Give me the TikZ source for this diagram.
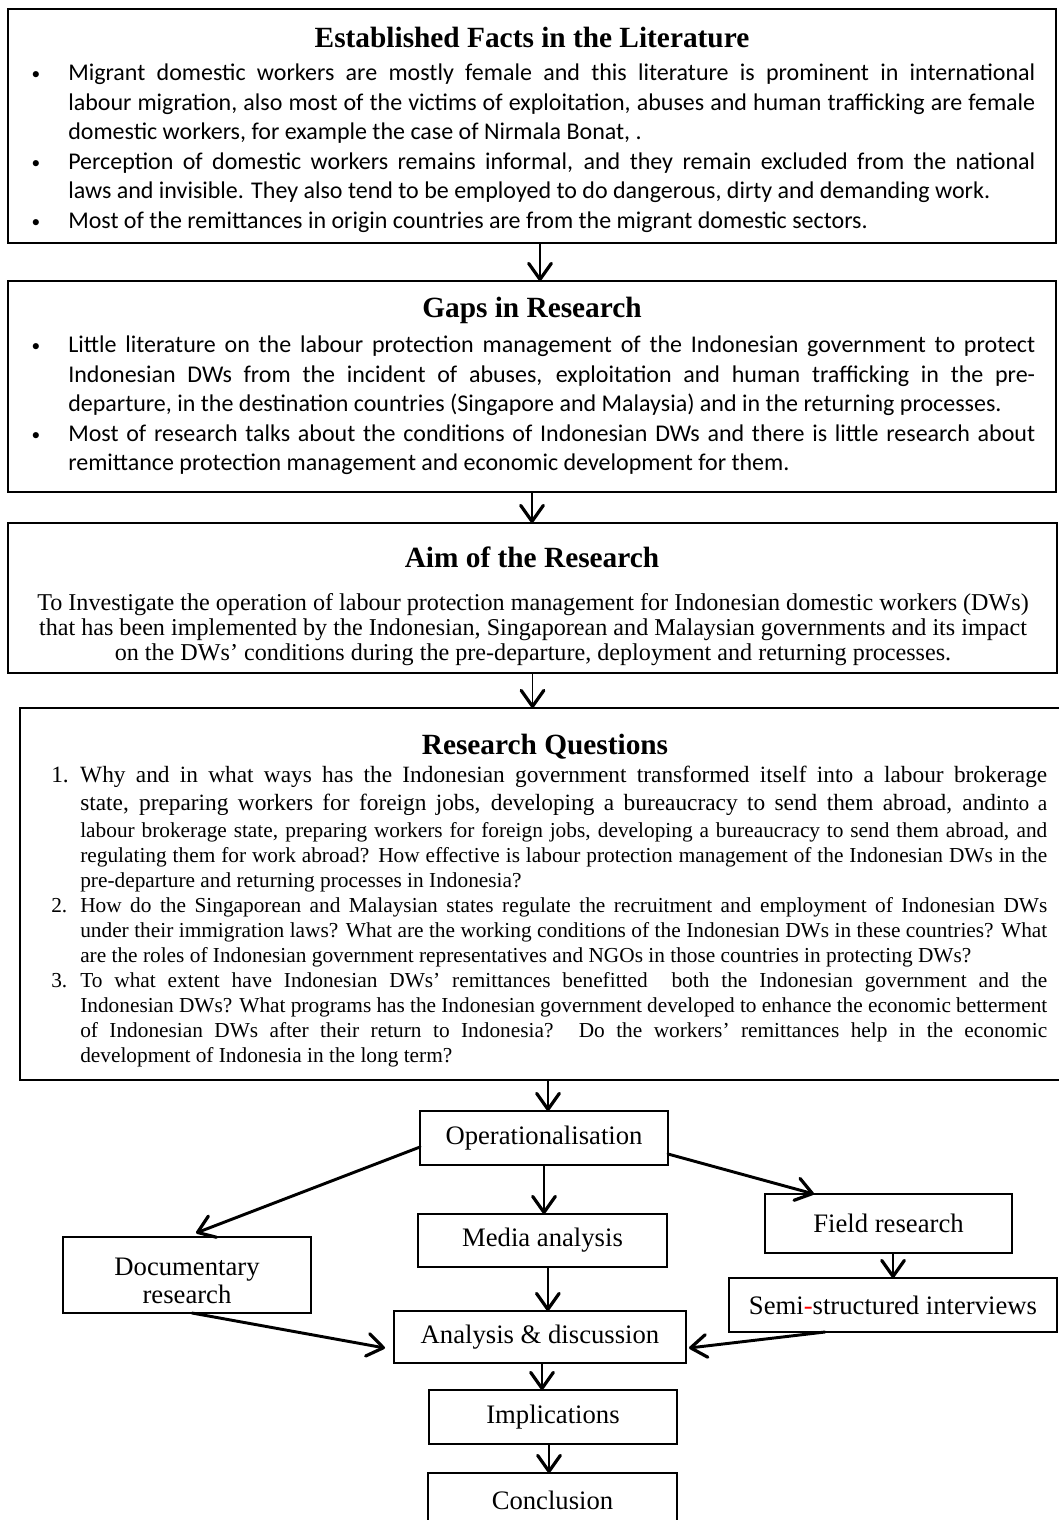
\documentclass[tikz,border=0pt]{standalone}
\usepackage{fontspec}
\setmainfont{Liberation Serif}
\newfontfamily\calfont{Carlito}
\usetikzlibrary{arrows.meta}
\newcommand{\bigrq}{\fontsize{17.5}{18.75}\selectfont}
\newcommand{\smallrq}{\fontsize{16}{18.75}\selectfont}
\newcommand{\bitem}[1]{\hangindent=28.5pt\hangafter=1\noindent\makebox[28.5pt][l]{\hspace{1pt}\raisebox{0.5pt}{\fontsize{13}{13}\selectfont •}}#1\par}
\begin{document}
\begin{tikzpicture}[x=0.75pt,y=-0.75pt,
  bigbox/.style={draw, line width=1.6pt, inner sep=0pt, outer sep=0pt},
  boxtitle/.style={font=\fontsize{22}{26}\selectfont\bfseries, inner sep=0pt},
  calbody/.style={font=\calfont\fontsize{18}{22.2}\selectfont, inner sep=0pt, text width=753.75pt, align=justify, anchor=north west},
  stepbox/.style={draw, line width=1.6pt, inner sep=0pt, outer sep=0pt, align=center, font=\fontsize{20}{21}\selectfont},
  steptext/.style={inner sep=0pt, align=center, font=\fontsize{20}{21}\selectfont},
  arr/.style={line width=1.1pt, -{Straight Barb[length=12pt,width=17pt,line width=2.4pt,round]}},
  arrthick/.style={line width=2.2pt, line cap=round, -{Straight Barb[length=12pt,width=17pt,line width=2.4pt,round]}},
  arrmid/.style={line width=1.6pt, -{Straight Barb[length=12pt,width=17pt,line width=2.4pt,round]}}
]
\useasboundingbox (0,0) rectangle (1058,1520);
\fill[white] (0,0) rectangle (1058,1520);

% ---- big boxes
\node[bigbox, minimum width=786pt, minimum height=175.5pt] (b1) at (532,126) {};
\node[bigbox, minimum width=786pt, minimum height=158.25pt] (b2) at (532,386.5) {};
\node[bigbox, minimum width=786.75pt, minimum height=112.5pt] (b3) at (532.5,598) {};
\node[bigbox, minimum width=787.5pt, minimum height=279pt] (b4) at (545,894) {};

% ---- box 1
\node[boxtitle] (t1) at (532,38) {Established Facts in the Literature};
\node[calbody] (c1) at (30,63.5) {%
\bitem{Migrant domestic workers are mostly female and this literature is prominent in international\linebreak labour migration, also most of the victims of exploitation, abuses and human trafficking are female\linebreak domestic workers, for example the case of Nirmala Bonat, .}
\bitem{Perception of domestic workers remains informal, and they remain excluded from the national\linebreak laws and invisible. They also tend to be employed to do dangerous, dirty and demanding work.}
\bitem{Most of the remittances in origin countries are from the migrant domestic sectors.}};

% ---- box 2
\node[boxtitle] (t2) at (532,310) {Gaps in Research};
\node[calbody] (c2) at (30,335.5) {%
\bitem{Little literature on the labour protection management of the Indonesian government to protect\linebreak Indonesian DWs from the incident of abuses, exploitation and human trafficking in the pre-\linebreak departure, in the destination countries (Singapore and Malaysia) and in the returning processes.}
\bitem{Most of research talks about the conditions of Indonesian DWs and there is little research about\linebreak remittance protection management and economic development for them.}};

% ---- box 3
\node[boxtitle] (t3) at (532,557) {Aim of the Research};
\node[inner sep=0pt, anchor=north, align=center, font=\fontsize{18.1}{19}\selectfont] (c3) at (533,593) {To Investigate the operation of labour protection management for Indonesian domestic workers (DWs)\\
that has been implemented by the Indonesian, Singaporean and Malaysian governments and its impact\\
on the DWs’ conditions during the pre-departure, deployment and returning processes.};

% ---- box 4
\node[boxtitle] (t4) at (545,747) {Research Questions};
\node[inner sep=0pt, anchor=north west, text width=747pt, align=justify] (c4) at (51,766) {%
\hangindent=21.75pt\hangafter=1\noindent\bigrq\makebox[21.75pt][l]{1.}Why and in what ways has the Indonesian government transformed itself into a labour brokerage\vadjust{\vskip2.25pt}\linebreak state, preparing workers for foreign jobs, developing a bureaucracy to send them abroad, and{\smallrq into a}\vadjust{\vskip1.5pt}\linebreak \smallrq labour brokerage state, preparing workers for foreign jobs, developing a bureaucracy to send them abroad, and\linebreak regulating them for work abroad? How effective is labour protection management of the Indonesian DWs in the\linebreak pre-departure and returning processes in Indonesia?\par
\hangindent=21.75pt\hangafter=1\noindent\smallrq\makebox[21.75pt][l]{2.}How do the Singaporean and Malaysian states regulate the recruitment and employment of Indonesian DWs\linebreak under their immigration laws? What are the working conditions of the Indonesian DWs in these countries? What\linebreak are the roles of Indonesian government representatives and NGOs in those countries in protecting DWs?\par
\hangindent=21.75pt\hangafter=1\noindent\smallrq\makebox[21.75pt][l]{3.}To what extent have Indonesian DWs’ remittances benefitted\ \ both the Indonesian government and the\linebreak Indonesian DWs? What programs has the Indonesian government developed to enhance the economic betterment\linebreak of Indonesian DWs after their return to Indonesia? Do the workers’ remittances help in the economic\linebreak development of Indonesia in the long term?\par};

% ---- lower flow nodes
\node[stepbox, minimum width=186pt, minimum height=40.5pt] (op) at (544,1138) {Operationalisation};
\node[stepbox, minimum width=186.75pt, minimum height=39.75pt] (media) at (542.5,1240.5) {Media analysis};
\node[stepbox, minimum width=185.25pt, minimum height=44.25pt] (field) at (888.5,1223.5) {Field research};
\node[stepbox, minimum width=186pt, minimum height=57pt] (doc) at (187,1275) {};
\node[steptext] (doctext) at (187,1281) {Documentary\\research};
\node[stepbox, minimum width=246pt, minimum height=40.5pt] (semi) at (893,1305) {Semi\textcolor{red}{-}structured interviews};
\node[stepbox, minimum width=219pt, minimum height=39pt] (ana) at (540,1337) {Analysis \& discussion};
\node[stepbox, minimum width=186pt, minimum height=40.5pt] (impl) at (553,1417) {Implications};
\node[stepbox, minimum width=186.75pt, minimum height=40.5pt] (concl) at (552.5,1500) {Conclusion};

% ---- connectors between big boxes
\draw[arr] ([xshift=6pt]b1.south) -- ([xshift=6pt]b1.south |- b2.north);
\draw[arr] (b2.south) -- (b2.south |- b3.north);
\draw[arr] (b3.south) -- (b3.south |- b4.north);
\draw[arr] ([xshift=3pt]b4.south -| op) -- ([xshift=3pt]op.north);

% ---- lower connectors
\draw[arrthick] ([yshift=-6.75pt]op.west) -- ([xshift=6.75pt,yshift=3pt]doc.north);
\draw[arrthick] ([yshift=-12pt]op.east) -- ([xshift=36.75pt]field.north west);
\draw[arrmid] (op.south) -- (op.south |- media.north);
\draw[arrmid] ([xshift=4pt]media.south) -- ([xshift=4pt]media.south |- ana.north);
\draw[arrmid] ([xshift=3.4pt]field.south) -- ([xshift=3.4pt]field.south |- semi.north);
\draw[arrthick] ([xshift=3.75pt]doc.south) -- ([xshift=-6.75pt,yshift=-8.25pt]ana.west);
\draw[arrthick] ([xshift=-51pt]semi.south) -- ([xshift=2.25pt,yshift=-8.25pt]ana.east);
\draw[arrmid] ([xshift=1.5pt]ana.south) -- ([xshift=1.5pt]ana.south |- impl.north);
\draw[arrmid] ([xshift=-3pt]impl.south) -- ([xshift=-3pt]impl.south |- concl.north);
\end{tikzpicture}
\end{document}
